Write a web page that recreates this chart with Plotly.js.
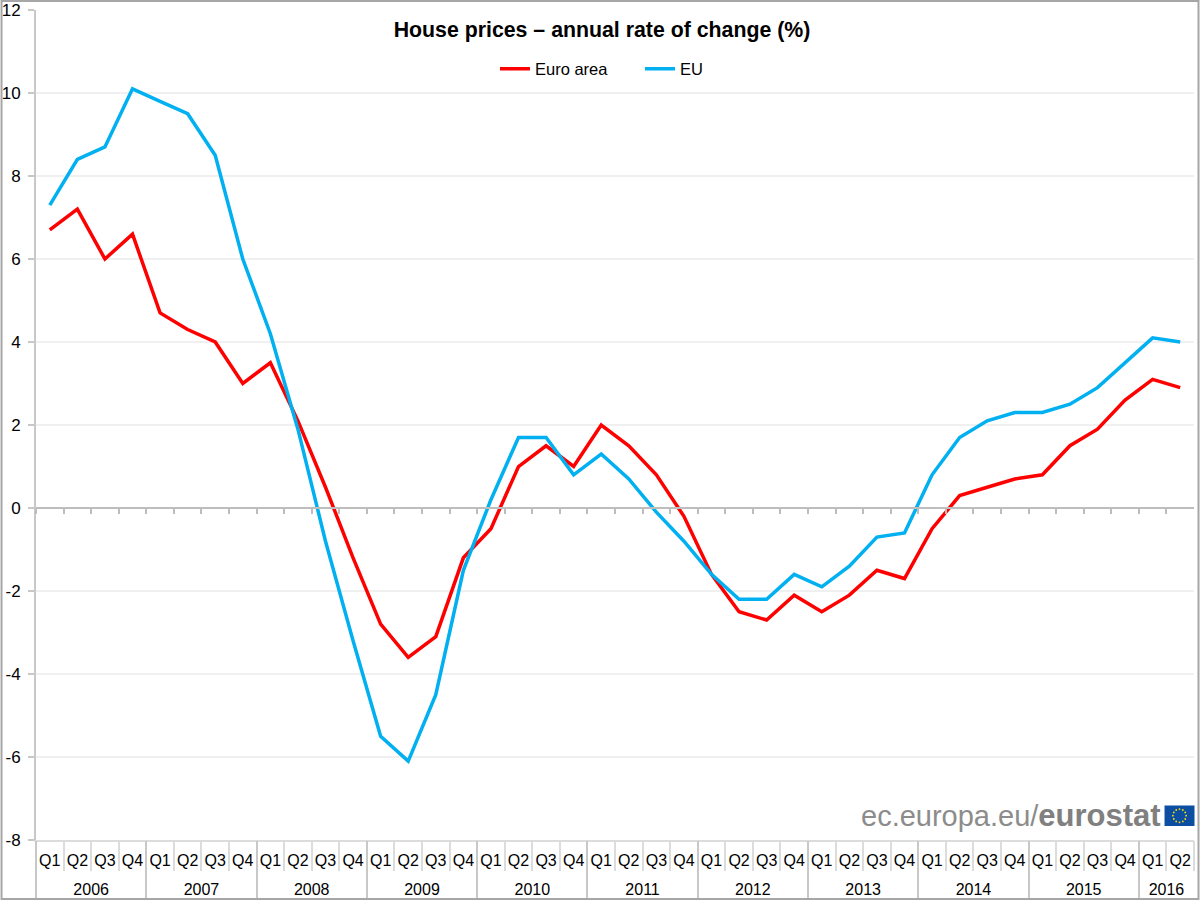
<!DOCTYPE html>
<html>
<head>
<meta charset="utf-8">
<script src="https://cdn.plot.ly/plotly-3.0.1.min.js"></script>
<style>html,body{margin:0;padding:0;background:#fff}#chart{width:1200px;height:900px}</style>
</head>
<body>
<div id="chart"></div>
<script>
const years = ["2006","2007","2008","2009","2010","2011","2012","2013","2014","2015","2016"];
const quartersPerYear = [4,4,4,4,4,4,4,4,4,4,2];
const quarterNames = ["Q1","Q2","Q3","Q4"];
const yTickValues = [-8,-6,-4,-2,0,2,4,6,8,10,12];
const yTickLabels = ["-8","-6","-4","-2","0","2","4","6","8","10","12"];
const euroArea = [6.7,7.2,6.0,6.6, 4.7,4.3,4.0,3.0, 3.5,2.1,0.5,-1.2, -2.8,-3.6,-3.1,-1.2,
  -0.5,1.0,1.5,1.0, 2.0,1.5,0.8,-0.2, -1.6,-2.5,-2.7,-2.1, -2.5,-2.1,-1.5,-1.7,
  -0.5,0.3,0.5,0.7, 0.8,1.5,1.9,2.6, 3.1,2.9];
const eu = [7.3,8.4,8.7,10.1, 9.8,9.5,8.5,6.0, 4.2,1.9,-0.8,-3.2, -5.5,-6.1,-4.5,-1.5,
  0.2,1.7,1.7,0.8, 1.3,0.7,-0.1,-0.8, -1.6,-2.2,-2.2,-1.6, -1.9,-1.4,-0.7,-0.6,
  0.8,1.7,2.1,2.3, 2.3,2.5,2.9,3.5, 4.1,4.0];

const quarterAxis = [], yearCentres = [], yearStarts = [];
let count = 0;
years.forEach((y,i)=>{
  yearStarts.push(count-0.5);
  yearCentres.push(count+(quartersPerYear[i]-1)/2);
  for(let q=0;q<quartersPerYear[i];q++){ quarterAxis.push(quarterNames[q]); count++; }
});
const idx = quarterAxis.map((_,i)=>i);
const xRange = [-0.5, count-0.5];

const L=35.5,R=1194.5,T=10,B=840;
const px=x=>(x-L)/(R-L), py=y=>(B-y)/(B-T);
const F='"Liberation Sans", Arial, sans-serif';

const shapes=[
  {type:'rect',xref:'paper',yref:'paper',x0:px(1),x1:px(1199),y0:py(899),y1:py(1),line:{color:'#a6a6a6',width:2},fillcolor:'rgba(0,0,0,0)',layer:'below'},
  {type:'rect',xref:'paper',yref:'paper',x0:px(1165),x1:px(1195),y0:py(826),y1:py(805.5),line:{width:0},fillcolor:'#0b4ea2'}
];
for(let k=0;k<12;k++){
  const a=k*Math.PI/6, cx=1180+6.6*Math.cos(a), cy=815.7+6.6*Math.sin(a), r=0.9;
  shapes.push({type:'circle',xref:'paper',yref:'paper',x0:px(cx-r),x1:px(cx+r),y0:py(cy+r),y1:py(cy-r),line:{width:0},fillcolor:'#ffe000'});
}

const helper = ax => ({x:idx,y:idx.map(()=>null),xaxis:ax,type:'scatter',mode:'lines',showlegend:false,hoverinfo:'skip'});
const traces=[
  {name:'Euro area',type:'scatter',mode:'lines',x:idx,y:euroArea,text:quarterAxis,line:{color:'#ff0000',width:3.5}},
  {name:'EU',type:'scatter',mode:'lines',x:idx,y:eu,text:quarterAxis,line:{color:'#00b0f0',width:3.5}},
  helper('x2'),helper('x3'),helper('x4'),helper('x5')
];
const bottom = extra => Object.assign({overlaying:'x',anchor:'free',position:0,range:xRange,showgrid:false,zeroline:false,showline:false},extra);
const layout={
  width:1200,height:900,
  margin:{l:L,r:1200-R,t:T,b:900-B,pad:0},
  paper_bgcolor:'#fff',plot_bgcolor:'#fff',
  font:{family:F,size:16,color:'#000'},
  title:{text:'<b>House prices – annual rate of change (%)</b>',font:{family:F,size:21.3,color:'#000'},x:602/1200,xanchor:'center',y:1-30/900,yanchor:'middle'},
  showlegend:true,
  legend:{orientation:'h',x:px(640),xanchor:'center',y:py(69),yanchor:'middle',bgcolor:'rgba(0,0,0,0)',font:{family:F,size:16.5},entrywidth:100,entrywidthmode:'pixels',itemwidth:30},
  xaxis:{range:xRange,tickmode:'array',tickvals:idx,ticktext:quarterAxis,ticks:'',tickangle:0,ticklabelstandoff:5,showgrid:false,zeroline:false,showline:true,linecolor:'#dcdcdc',linewidth:2,
    tickfont:{family:F,size:16,color:'#000'}},
  xaxis2:{overlaying:'x',anchor:'free',position:py(507.5),range:xRange,tickmode:'array',tickvals:idx.map(i=>i-0.5),showgrid:false,zeroline:false,
    showline:true,linecolor:'#bdbdbd',linewidth:2,ticks:'outside',ticklen:5,tickwidth:1.5,tickcolor:'#bdbdbd',showticklabels:false},
  xaxis3:bottom({tickmode:'array',tickvals:idx.map(i=>i-0.5).concat([count-0.5]),ticks:'outside',ticklen:30,tickwidth:1.5,tickcolor:'#dcdcdc',showticklabels:false}),
  xaxis4:bottom({tickmode:'array',tickvals:yearStarts,ticks:'outside',ticklen:57,tickwidth:1.5,tickcolor:'#c8c8c8',showticklabels:false}),
  xaxis5:bottom({tickmode:'array',tickvals:yearCentres,ticktext:years,ticks:'',tickangle:0,ticklabelstandoff:38,tickfont:{family:F,size:16,color:'#000'}}),
  yaxis:{range:[-8,12],tickmode:'array',tickvals:yTickValues,ticktext:yTickLabels,showgrid:true,gridcolor:'#f0f0f0',gridwidth:1.5,zeroline:false,showline:true,linecolor:'#c8c8c8',linewidth:2,
    ticks:'outside',ticklen:6,tickwidth:1.5,tickcolor:'#c8c8c8',ticklabelstandoff:4,tickfont:{family:F,size:17,color:'#000'}},
  shapes:shapes,
  annotations:[{xref:'paper',yref:'paper',x:px(1163),y:py(815),xanchor:'right',yanchor:'middle',showarrow:false,
    text:'<span style="font-size:29px;color:#8c8c8c">ec.europa.eu/</span><b style="font-size:31px">eurostat</b>',font:{family:F,size:31,color:'#808080'}}]
};
Plotly.newPlot('chart',traces,layout,{displayModeBar:false,responsive:false});
</script>
</body>
</html>
